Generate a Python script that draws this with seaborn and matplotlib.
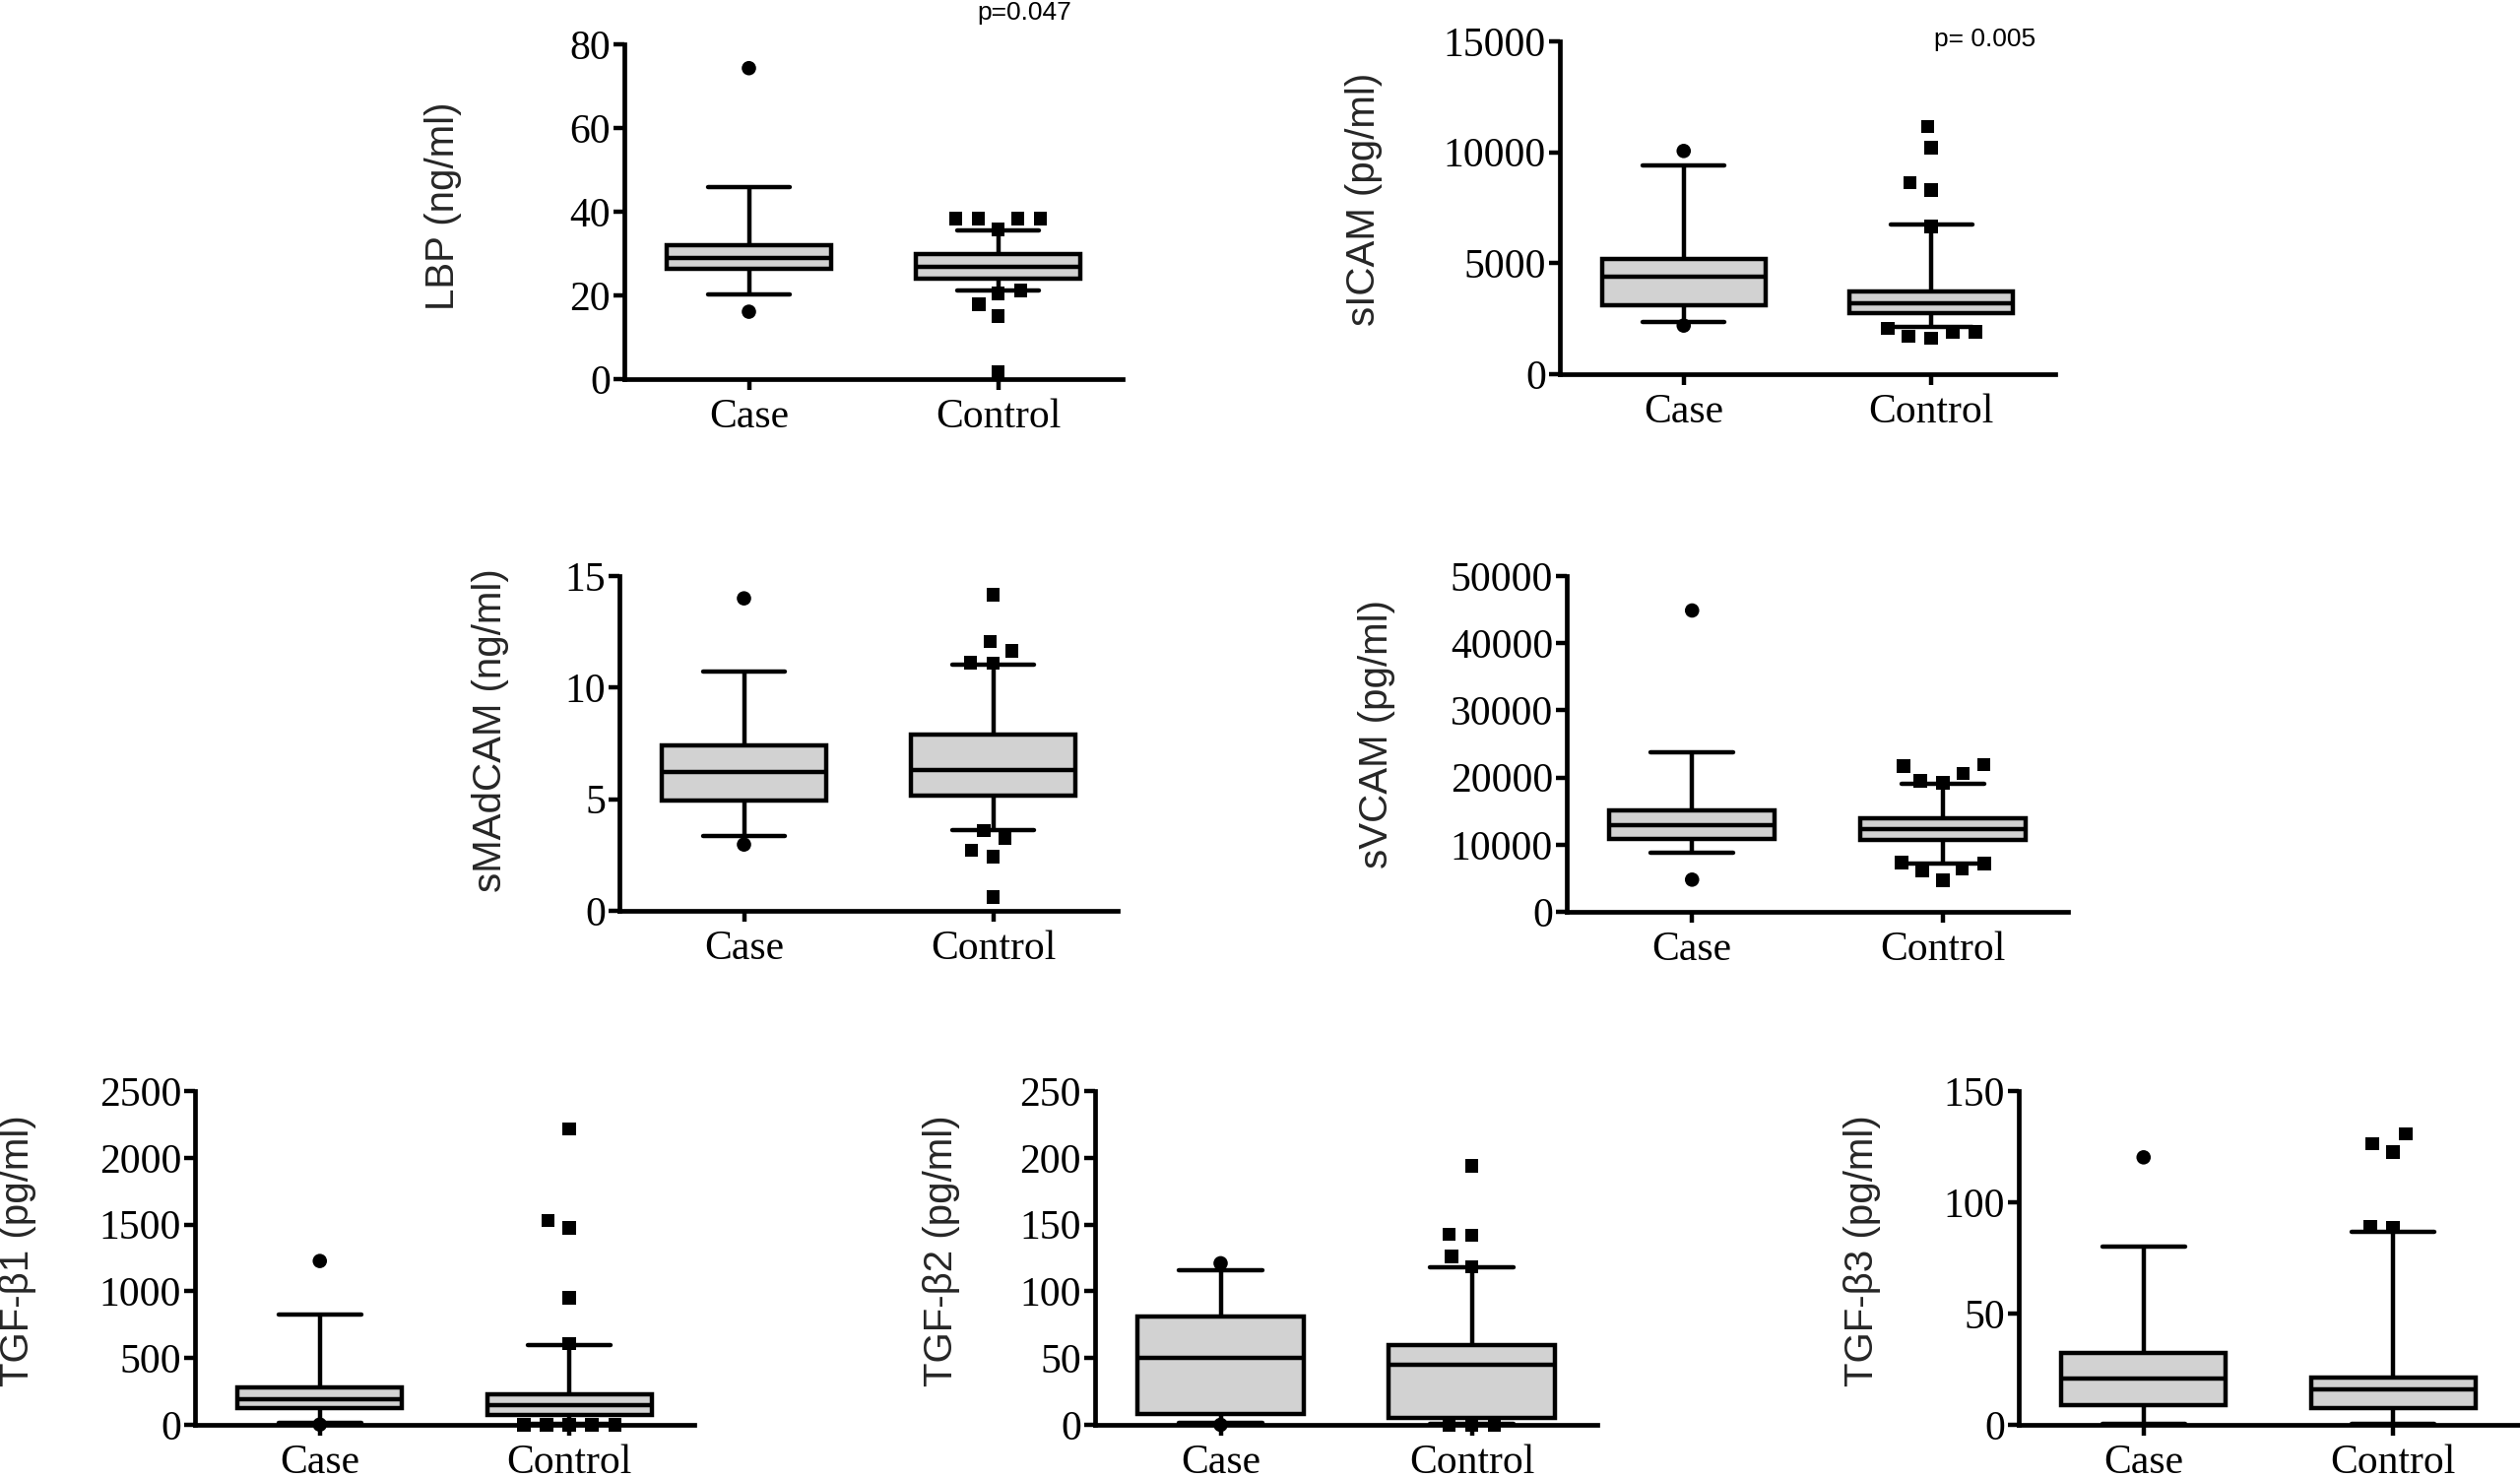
import numpy as np
import pandas as pd
import matplotlib
matplotlib.use("Agg")
import matplotlib.pyplot as plt
import seaborn as sns
import warnings

warnings.filterwarnings("ignore")

# ---------------- data ----------------
groups = ["Case", "Control"]

# box summaries: [lower whisker, Q1, median, Q3, upper whisker]
lbp_case = [20.2, 26.4, 29.0, 31.9, 45.9]
lbp_control = [21.2, 24.1, 26.8, 29.9, 35.5]
lbp_case_out = [74.3, 16.1]
lbp_control_out = [38.4, 38.4, 38.4, 38.4, 35.8, 21.2, 20.5, 17.9, 15.1, 1.6]
lbp_ticks = [0, 20, 40, 60, 80]

sicam_case = [2340, 3110, 4390, 5210, 9400]
sicam_control = [2120, 2740, 3180, 3730, 6730]
sicam_case_out = [10060, 2190]
sicam_control_out = [11160, 10200, 8640, 8310, 6650, 2070, 1920, 1920, 1700, 1620]
sicam_ticks = [0, 5000, 10000, 15000]

smadcam_case = [3.35, 4.96, 6.22, 7.40, 10.74]
smadcam_control = [3.60, 5.15, 6.29, 7.91, 11.03]
smadcam_case_out = [14.0, 2.97]
smadcam_control_out = [14.15, 12.06, 11.65, 11.13, 11.10, 3.60, 3.26, 2.72, 2.43, 0.62]
smadcam_ticks = [0, 5, 10, 15]

svcam_case = [8800, 10900, 12950, 15050, 23700]
svcam_control = [7230, 10750, 12350, 13970, 19060]
svcam_case_out = [44870, 4790]
svcam_control_out = [21900, 21700, 20600, 19500, 19200, 7330, 7180, 6350, 6160, 4690]
svcam_ticks = [0, 10000, 20000, 30000, 40000, 50000]

tgfb1_case = [12, 123, 194, 280, 828]
tgfb1_control = [8, 71, 147, 226, 595]
tgfb1_case_out = [1227, 2]
tgfb1_control_out = [2217, 1529, 1475, 951, 607, 0, 0, 0, 0, 0]
tgfb1_ticks = [0, 500, 1000, 1500, 2000, 2500]

tgfb2_case = [1.5, 7.9, 50.4, 80.9, 116.0]
tgfb2_control = [1.0, 5.4, 44.7, 60.0, 117.7]
tgfb2_case_out = [121.0, 0.0]
tgfb2_control_out = [194.0, 142.6, 142.0, 126.0, 118.5, 0.0, 0.0, 0.0]
tgfb2_ticks = [0, 50, 100, 150, 200, 250]

tgfb3_case = [0.5, 8.7, 20.9, 32.3, 80.2]
tgfb3_control = [0.5, 7.7, 15.8, 21.2, 86.9]
tgfb3_case_out = [120.2]
tgfb3_control_out = [130.8, 126.4, 122.7, 89.1, 88.8]
tgfb3_ticks = [0, 50, 100, 150]

labels = ["LBP (ng/ml)", "sICAM (pg/ml)", "sMAdCAM (ng/ml)", "sVCAM (pg/ml)",
          "TGF-\u03b21 (pg/ml)", "TGF-\u03b22 (pg/ml)", "TGF-\u03b23 (pg/ml)"]
p_texts = ["p=0.047", "p= 0.005"]

panels = [
    (lbp_case, lbp_control, lbp_case_out, lbp_control_out, lbp_ticks),
    (sicam_case, sicam_control, sicam_case_out, sicam_control_out, sicam_ticks),
    (smadcam_case, smadcam_control, smadcam_case_out, smadcam_control_out, smadcam_ticks),
    (svcam_case, svcam_control, svcam_case_out, svcam_control_out, svcam_ticks),
    (tgfb1_case, tgfb1_control, tgfb1_case_out, tgfb1_control_out, tgfb1_ticks),
    (tgfb2_case, tgfb2_control, tgfb2_case_out, tgfb2_control_out, tgfb2_ticks),
    (tgfb3_case, tgfb3_control, tgfb3_case_out, tgfb3_control_out, tgfb3_ticks),
]

# ---------------- layout (pixels) ----------------
W, H = 2559, 1501
# left, top, width, height of each axes
axes_px = [
    (634, 45, 506, 340),
    (1584, 42, 503, 338),
    (629, 585, 506, 340),
    (1591, 585, 509, 341),
    (198, 1108, 507, 339),
    (1112, 1108, 510, 339),
    (2050, 1108, 507, 339),
]
# right edge and vertical centre of each y label
ylabel_px = [(469, 209), (1404, 202), (517, 742), (1417, 746),
             (37, 1270), (975, 1270), (1910, 1270)]
p_pos_px = [(1040, 13), (2016, 40)]

sns.set_style("ticks")
plt.rcParams["font.family"] = ["Liberation Serif", "DejaVu Serif"]
SANS = ["Liberation Sans", "DejaVu Sans"]

fig = plt.figure(figsize=(W / 100, H / 100), dpi=100)

LW = 3.2
for (case, control, case_out, control_out, ticks), (l, t, w, h), (lx, ly), lab in zip(
        panels, axes_px, ylabel_px, labels):
    ax = fig.add_axes([l / W, 1 - (t + h) / H, w / W, h / H])

    box_df = pd.DataFrame({"group": np.repeat(groups, 5),
                           "value": list(case) + list(control)})
    sns.boxplot(data=box_df, x="group", y="value", order=groups, whis=(0, 100),
                width=0.66, color="#d2d2d2", linecolor="black", linewidth=LW,
                showfliers=False, saturation=1, ax=ax)

    case_df = pd.DataFrame({"group": ["Case"] * len(case_out), "value": case_out})
    ctrl_df = pd.DataFrame({"group": ["Control"] * len(control_out), "value": control_out})
    sns.swarmplot(data=case_df, x="group", y="value", order=groups, marker="o",
                  size=10.5, color="black", edgecolor="none", linewidth=6,
                  zorder=5, ax=ax)
    sns.swarmplot(data=ctrl_df, x="group", y="value", order=groups, marker="s",
                  size=9.8, color="black", edgecolor="none", linewidth=6,
                  zorder=5, ax=ax)

    ax.set_xlim(-0.5, 1.5)
    ax.set_ylim(ticks[0], ticks[-1])
    ax.set_yticks(ticks)
    ax.set_yticklabels([str(v) for v in ticks])
    ax.set_xlabel("")
    ax.set_ylabel(lab, fontfamily=SANS, fontsize=29)
    ax.yaxis.set_label_coords((lx - l) / w, (t + h - ly) / h)

    for sp in ["top", "right"]:
        ax.spines[sp].set_visible(False)
    for sp in ["left", "bottom"]:
        ax.spines[sp].set_linewidth(3.4)
        ax.spines[sp].set_color("black")
    ax.tick_params(axis="both", width=3.2, length=8, direction="out",
                   color="black", labelsize=30, labelcolor="black")
    ax.tick_params(axis="y", pad=2)
    ax.tick_params(axis="x", pad=6)
    ax.grid(False)
    ax.set_facecolor("white")

    # let markers and caps sitting on the zero line show fully
    for c in ax.collections:
        if len(c.get_offsets()) > 0:
            c.set_clip_on(False)
        else:
            c.set_visible(False)
    for ln in ax.lines:
        ln.set_clip_on(False)
    for p in ax.patches:
        p.set_clip_on(False)

for txt, (px, py) in zip(p_texts, p_pos_px):
    fig.text(px / W, 1 - py / H, txt, ha="center", va="center",
             fontfamily=SANS, fontsize=19, color="black")

fig.savefig("out.png", dpi=100, facecolor="white")
